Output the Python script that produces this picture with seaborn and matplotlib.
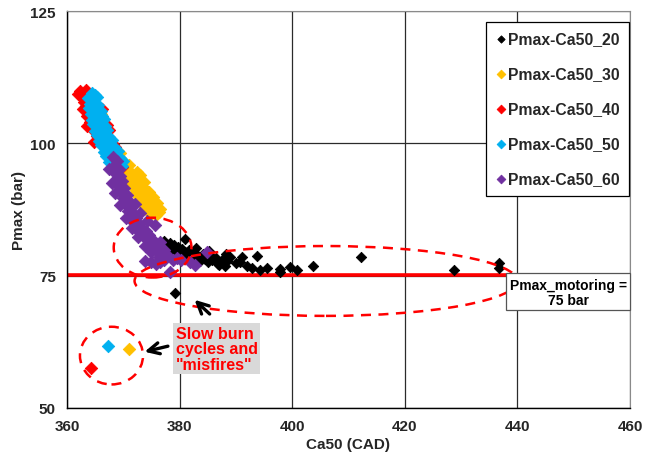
import numpy as np
import pandas as pd
import matplotlib
matplotlib.use("Agg")
import matplotlib.pyplot as plt
from matplotlib.patches import Ellipse, Rectangle
import seaborn as sns

# ---------------- data ----------------
x20 = [376.5, 377.2, 377.8, 378.3, 378.6, 379.0, 379.4, 379.8, 380.1, 380.5, 380.9, 381.2,
       381.6, 382.0, 382.3, 382.8, 383.3, 383.6, 384.1, 384.6, 385.0, 385.5, 385.8, 386.4,
       386.9, 387.5, 388.2, 388.1, 388.4, 389.0, 390.0, 390.7, 391.0, 392.0, 392.8, 393.7,
       394.3, 395.6, 397.8, 397.8, 399.6, 400.8, 403.7, 412.2, 428.7, 436.8, 436.8, 379.2,
       381.0, 378.0, 380.3, 383.0, 385.2, 387.0]
y20 = [81.0, 81.6, 80.6, 81.2, 80.0, 80.8, 79.6, 80.4, 79.2, 80.0, 79.5, 78.8,
       79.8, 79.0, 78.4, 79.3, 78.6, 77.8, 79.0, 78.2, 77.6, 78.8, 77.9, 78.3,
       77.2, 78.0, 79.1, 76.9, 77.8, 78.5, 77.4, 77.6, 78.6, 76.8, 76.4, 78.8,
       76.0, 76.5, 76.3, 75.7, 76.6, 76.1, 76.9, 78.5, 76.1, 77.4, 76.5, 71.8,
       82.0, 79.8, 78.2, 80.2, 79.6, 77.0]

x30 = [369.0, 369.6, 370.2, 369.8, 370.6, 371.2, 370.4, 371.6, 370.9, 372.0, 371.4, 372.4,
       371.8, 372.8, 372.2, 373.2, 372.6, 373.6, 373.0, 374.0, 373.4, 374.4, 373.9, 374.8,
       374.3, 375.3, 375.8, 376.3, 375.0, 375.8, 372.8, 373.4, 374.2, 371.0, 373.8, 374.9,
       375.4, 372.4, 376.5, 369.5, 374.5, 375.3, 376.0, 373.6, 372.9, 366.0, 371.1]
y30 = [97.5, 96.8, 96.4, 95.6, 95.2, 94.6, 94.2, 93.8, 93.3, 93.0, 92.5, 92.2,
       91.7, 91.4, 90.9, 90.7, 90.1, 89.9, 89.4, 89.2, 88.7, 88.5, 88.0, 87.8,
       87.3, 87.2, 87.7, 87.0, 86.6, 86.4, 92.8, 92.0, 90.6, 96.0, 91.2, 89.6,
       88.6, 94.6, 87.6, 98.2, 90.8, 89.9, 88.8, 92.7, 94.0, 105.6, 61.1]

x40 = [362.3, 363.0, 363.7, 362.6, 363.4, 364.0, 363.0, 363.4, 362.9, 363.6, 364.1, 363.6,
       364.4, 365.3, 365.9, 366.2, 367.1, 367.4, 368.2, 368.5, 369.5, 369.8, 364.8, 363.3,
       362.0, 364.2]
y40 = [109.9, 109.6, 109.2, 108.8, 108.3, 108.8, 107.9, 107.0, 106.4, 105.2, 104.0, 103.2,
       102.7, 101.4, 105.9, 106.4, 103.4, 102.6, 99.9, 99.4, 96.1, 95.6, 100.2, 110.1,
       109.4, 57.6]

x50 = [364.4, 365.0, 363.8, 364.6, 365.3, 364.0, 364.7, 365.5, 363.9, 364.6, 365.3, 366.0,
       364.2, 364.9, 365.6, 366.3, 364.4, 365.1, 365.8, 366.6, 364.6, 365.3, 366.0, 366.8,
       364.9, 365.6, 366.3, 367.1, 365.3, 366.0, 366.7, 367.5, 365.7, 366.4, 367.1, 368.0,
       366.0, 366.8, 367.6, 368.5, 366.5, 367.2, 368.0, 369.0, 367.0, 367.8, 368.6, 369.5,
       367.5, 368.3, 369.2, 370.0, 368.2, 369.0, 369.8, 367.2]
y50 = [109.6, 109.2, 108.6, 108.3, 108.7, 107.4, 107.7, 107.3, 106.6, 106.3, 106.7, 106.2,
       105.6, 105.3, 105.7, 105.2, 104.4, 104.7, 104.3, 104.6, 103.6, 103.3, 103.7, 103.2,
       102.4, 102.7, 102.3, 102.6, 101.6, 101.3, 101.7, 101.2, 100.4, 100.7, 100.3, 100.6,
       99.6, 99.3, 99.7, 99.2, 98.4, 98.7, 98.3, 98.6, 97.6, 97.3, 97.7, 97.2,
       96.4, 96.7, 96.3, 96.6, 95.6, 95.3, 95.7, 61.8]

x60 = [368.2, 368.8, 368.4, 369.2, 368.6, 369.4, 368.9, 369.8, 369.3, 370.2, 369.6, 370.6,
       370.0, 371.0, 370.4, 371.4, 370.8, 371.8, 371.2, 372.3, 371.7, 372.8, 372.2, 373.3,
       372.8, 374.0, 373.5, 374.6, 374.0, 375.3, 374.7, 375.8, 375.3, 376.5, 376.0, 377.2,
       376.8, 377.8, 375.6, 374.2, 373.0, 372.0, 376.5, 377.1,
       367.5, 368.0, 368.6, 369.4, 370.5, 371.5, 372.6, 373.8, 375.0, 376.4,
       375.0, 375.8, 376.5, 377.3, 378.3, 378.9, 380.2, 381.8, 382.7, 384.8, 379.5, 373.8]
y60 = [97.4, 96.6, 95.8, 95.2, 94.4, 93.9, 93.3, 92.8, 92.0, 91.5, 90.8, 90.3,
       89.6, 89.1, 88.4, 87.9, 87.2, 86.8, 86.2, 85.8, 85.2, 84.8, 84.2, 83.8,
       83.2, 83.4, 82.6, 82.6, 81.9, 81.8, 81.1, 81.0, 80.4, 80.4, 79.7, 79.8,
       79.0, 78.9, 84.5, 85.3, 86.8, 88.6, 81.4, 79.8,
       95.2, 92.5, 90.6, 88.3, 85.8, 84.0, 82.3, 80.6, 79.4, 78.6,
       77.6, 77.2, 77.6, 78.0, 75.7, 77.9, 77.9, 77.6, 77.0, 79.5, 78.4, 77.8]

series_names = ["Pmax-Ca50_20", "Pmax-Ca50_30", "Pmax-Ca50_40", "Pmax-Ca50_50", "Pmax-Ca50_60"]
series_x = [x20, x30, x40, x50, x60]
series_y = [y20, y30, y40, y50, y60]
colors = ["#000000", "#FFC000", "#FF0000", "#00B0F0", "#7030A0"]

x_ticks = [360, 380, 400, 420, 440, 460]
y_ticks = [50, 75, 100, 125]
motoring = 75

# ---------------- plotting ----------------
sns.set_style("white")
plt.rcParams["font.family"] = ["Liberation Sans", "DejaVu Sans"]
plt.rcParams["font.weight"] = "bold"

fig = plt.figure(figsize=(6.57, 4.6), dpi=100)
ax = fig.add_axes([67 / 657, 51 / 460, 563 / 657, 397 / 460])

frames = []
for name, xs, ys in zip(series_names, series_x, series_y):
    frames.append(pd.DataFrame({"Ca50": xs, "Pmax": ys, "series": name}))
df = pd.concat(frames, ignore_index=True)

for name, col in zip(series_names, colors):
    sub = df[df["series"] == name]
    sns.scatterplot(data=sub, x="Ca50", y="Pmax", ax=ax, color=col, marker="D",
                    s=28 if name.endswith("20") else 40, edgecolor=col, linewidth=0.6,
                    label=name, zorder=3)

ax.set_xlim(x_ticks[0], x_ticks[-1])
ax.set_ylim(y_ticks[0], y_ticks[-1])
ax.set_xticks(x_ticks)
ax.set_yticks(y_ticks)
ax.grid(True, color="#2b2b2b", lw=0.9, zorder=0)
ax.set_axisbelow(True)
for side in ["top", "right"]:
    ax.spines[side].set_color("#8a8a8a")
for side in ["left", "bottom"]:
    ax.spines[side].set_color("black")
    ax.spines[side].set_linewidth(1.0)
ax.tick_params(axis="both", direction="out", length=5, width=1, color="black",
               labelsize=11, pad=3)
for lab in ax.get_xticklabels() + ax.get_yticklabels():
    lab.set_fontweight("bold")
ax.set_xlabel("Ca50 (CAD)", fontsize=11, fontweight="bold", labelpad=3)
ax.set_ylabel("Pmax (bar)", fontsize=11, fontweight="bold", labelpad=3)

# motoring line
ax.axhline(motoring + 0.05, color="#FF0000", lw=2.6, zorder=2)

# dashed ellipses
ell_kw = dict(fill=False, edgecolor="#FF0000", lw=1.8, ls=(0, (4, 3)), zorder=4)
ax.add_patch(Ellipse((375.2, 80.3), 13.8, 11.3, **ell_kw))
ax.add_patch(Ellipse((406.0, 74.0), 68.0, 13.2, **ell_kw))
ax.add_patch(Ellipse((367.9, 59.9), 11.2, 10.9, **ell_kw))

# annotation text and arrows
ax.text(379.3, 61.2, 'Slow burn\ncycles and\n"misfires"', color="#FF0000", fontsize=11.5,
        fontweight="bold", ha="left", va="center", linespacing=1.05, zorder=5,
        bbox=dict(boxstyle="square,pad=0.15", facecolor="#d9d9d9", edgecolor="none"))
arrow = dict(arrowstyle="->", color="black", lw=2.4, mutation_scale=20)
ax.annotate("", xy=(373.3, 60.5), xytext=(378.4, 61.8), arrowprops=arrow, zorder=5)
ax.annotate("", xy=(382.3, 70.8), xytext=(385.7, 67.4), arrowprops=arrow, zorder=5)

# motoring box
ax.add_patch(Rectangle((438.0, 68.6), 22.0, 6.9, facecolor="white", edgecolor="#555555",
                       lw=0.9, zorder=6, clip_on=False))
ax.text(449.0, 71.9, "Pmax_motoring =\n75 bar", ha="center", va="center", fontsize=10,
        fontweight="bold", color="black", linespacing=1.1, zorder=7)

# legend
leg = ax.legend(loc="upper right", bbox_to_anchor=(0.998, 0.972), borderaxespad=0,
                frameon=True, fancybox=False, edgecolor="black", framealpha=1,
                prop={"weight": "bold", "size": 11.3}, labelspacing=1.27,
                handletextpad=0.1, handlelength=0.7, borderpad=0.6, markerscale=0.7)
leg.get_frame().set_linewidth(0.9)
leg.set_zorder(8)

fig.savefig("out.png", dpi=100)
